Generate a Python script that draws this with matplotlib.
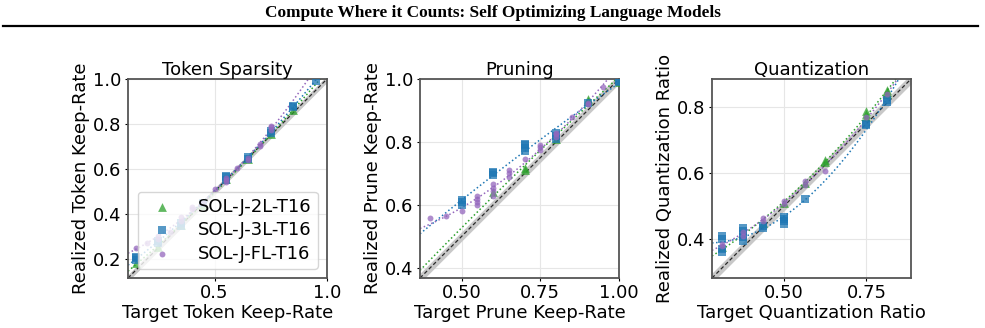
import numpy as np
import matplotlib
matplotlib.use("Agg")
import matplotlib.pyplot as plt
from matplotlib.lines import Line2D

plt.rcParams['font.family'] = ['DejaVu Sans']
plt.rcParams['font.size'] = 13

# ---- Token sparsity ----
tok_2l_x = [0.15, 0.25, 0.35, 0.45, 0.55, 0.65, 0.75, 0.85]
tok_2l_y = [0.18, 0.255, 0.35, 0.44, 0.555, 0.645, 0.755, 0.86]
tok_3l_x = [0.15, 0.15, 0.15, 0.25, 0.25, 0.35, 0.35, 0.45, 0.55, 0.55, 0.55, 0.65, 0.65, 0.75, 0.75, 0.85, 0.85, 0.95]
tok_3l_y = [0.195, 0.205, 0.21, 0.27, 0.28, 0.345, 0.36, 0.45, 0.55, 0.565, 0.57, 0.645, 0.655, 0.76, 0.77, 0.875, 0.88, 0.99]
tok_fl_x = [0.15, 0.2, 0.25, 0.25, 0.3, 0.35, 0.35, 0.4, 0.4, 0.45, 0.5, 0.55, 0.55, 0.55, 0.6, 0.65, 0.65, 0.7, 0.7, 0.75, 0.75, 0.75]
tok_fl_y = [0.25, 0.27, 0.29, 0.30, 0.32, 0.37, 0.385, 0.42, 0.43, 0.45, 0.51, 0.54, 0.55, 0.56, 0.605, 0.64, 0.65, 0.70, 0.71, 0.775, 0.785, 0.79]

# ---- Pruning ----
pr_2l_x = [0.6, 0.7, 0.7, 0.8, 0.9, 0.9, 1.0]
pr_2l_y = [0.64, 0.712, 0.716, 0.81, 0.93, 0.936, 0.99]
pr_3l_x = [0.5, 0.5, 0.5, 0.6, 0.6, 0.6, 0.7, 0.7, 0.7, 0.7, 0.8, 0.8, 0.8, 0.9, 1.0, 1.0]
pr_3l_y = [0.60, 0.61, 0.615, 0.695, 0.70, 0.705, 0.77, 0.78, 0.79, 0.795, 0.81, 0.82, 0.83, 0.925, 0.99, 0.995]
pr_fl_x = [0.4, 0.45, 0.5, 0.55, 0.55, 0.55, 0.55, 0.6, 0.6, 0.6, 0.6, 0.65, 0.65, 0.65, 0.7, 0.75, 0.75, 0.75,
           0.8, 0.8, 0.8, 0.85, 0.9, 0.9, 0.95]
pr_fl_y = [0.559, 0.566, 0.58, 0.60, 0.61, 0.62, 0.63, 0.63, 0.645, 0.655, 0.665, 0.69, 0.70, 0.71, 0.747, 0.775, 0.785, 0.79,
           0.815, 0.825, 0.83, 0.88, 0.92, 0.925, 0.974]

# ---- Quantization ----
qu_2l_x = [0.3125, 0.4375, 0.5, 0.5625, 0.625, 0.625, 0.75, 0.75, 0.75, 0.8125, 0.8125, 0.8125]
qu_2l_y = [0.375, 0.45, 0.51, 0.57, 0.635, 0.64, 0.77, 0.78, 0.787, 0.84, 0.845, 0.853]
qu_3l_x = [0.3125, 0.3125, 0.3125, 0.3125, 0.375, 0.375, 0.375, 0.375, 0.375, 0.4375, 0.4375,
           0.5, 0.5, 0.5, 0.5, 0.5625, 0.75, 0.75, 0.8125, 0.8125]
qu_3l_y = [0.36, 0.37, 0.40, 0.41, 0.395, 0.405, 0.415, 0.425, 0.435, 0.435, 0.44,
           0.445, 0.455, 0.46, 0.468, 0.52, 0.745, 0.748, 0.815, 0.82]
qu_fl_x = [0.3125, 0.3125, 0.375, 0.375, 0.4375, 0.4375, 0.5, 0.5, 0.5625, 0.5625, 0.625, 0.75, 0.8125]
qu_fl_y = [0.38, 0.385, 0.41, 0.42, 0.455, 0.465, 0.505, 0.515, 0.565, 0.575, 0.607, 0.77, 0.84]

labels = ['SOL-J-2L-T16', 'SOL-J-3L-T16', 'SOL-J-FL-T16']
colors = ['#2ca02c', '#1f77b4', '#9467bd']
markers = ['^', 's', 'o']
sizes = [40, 40, 18]

panels = [
    dict(title='Token Sparsity', xl='Target Token Keep-Rate', yl='Realized Token Keep-Rate',
         lim=(0.115, 1.0), xt=[0.5, 1.0], xtl=['0.5', '1.0'], yt=[0.2, 0.4, 0.6, 0.8, 1.0],
         data=[(tok_2l_x, tok_2l_y), (tok_3l_x, tok_3l_y), (tok_fl_x, tok_fl_y)], left=128),
    dict(title='Pruning', xl='Target Prune Keep-Rate', yl='Realized Prune Keep-Rate',
         lim=(0.368, 1.0), xt=[0.5, 0.75, 1.0], xtl=['0.50', '0.75', '1.00'], yt=[0.4, 0.6, 0.8, 1.0],
         data=[(pr_2l_x, pr_2l_y), (pr_3l_x, pr_3l_y), (pr_fl_x, pr_fl_y)], left=420),
    dict(title='Quantization', xl='Target Quantization Ratio', yl='Realized Quantization Ratio',
         lim=(0.282, 0.885), xt=[0.5, 0.75], xtl=['0.50', '0.75'], yt=[0.4, 0.6, 0.8],
         data=[(qu_2l_x, qu_2l_y), (qu_3l_x, qu_3l_y), (qu_fl_x, qu_fl_y)], left=712),
]

W, H = 985, 328
fig = plt.figure(figsize=(W / 100, H / 100), dpi=100)

fig.text(0.5, 1 - 13 / H, 'Compute Where it Counts: Self Optimizing Language Models',
         ha='center', va='center', family='Liberation Serif', weight='bold', fontsize=12.4)
fig.add_artist(Line2D([3 / W, 978 / W], [1 - 25.5 / H, 1 - 25.5 / H], color='black', lw=1.6))

for i, p in enumerate(panels):
    ax = fig.add_axes([p['left'] / W, 50 / H, 199 / W, 199 / H])
    lo, hi = p['lim']
    line = np.linspace(lo, hi, 100)
    ax.fill_between(line, line - 0.015, line + 0.015, color='#c8c8c8', lw=0, zorder=1)
    ax.plot(line, line, ls=(0, (3, 2)), color='black', lw=0.9, alpha=0.8, zorder=2)
    for (x, y), c, m, s, lab in zip(p['data'], colors, markers, sizes, labels):
        ax.scatter(x, y, marker=m, s=s, color=c, alpha=0.75, lw=0, label=lab, zorder=3)
        coef = np.polyfit(x, y, 2)
        ax.plot(line, np.polyval(coef, line), ls=':', color=c, lw=1.1, zorder=2.5)
    ax.set_xlim(lo, hi)
    ax.set_ylim(lo, hi)
    ax.set_xticks(p['xt'])
    ax.set_xticklabels(p['xtl'])
    ax.set_yticks(p['yt'])
    ax.grid(True, color='#e6e6e6', lw=0.8, zorder=0)
    ax.set_axisbelow(True)
    for sp in ax.spines.values():
        sp.set_color('#555555')
        sp.set_linewidth(1.3)
    ax.set_title(p['title'], fontsize=13, pad=3)
    ax.set_xlabel(p['xl'], fontsize=13, labelpad=1)
    ax.set_ylabel(p['yl'], fontsize=13, labelpad=2)
    ax.tick_params(labelsize=13, length=2.5, pad=2)
    if i == 0:
        ax.legend(loc='lower right', fontsize=13, framealpha=0.8, handletextpad=1.0,
                  borderpad=0.35, labelspacing=0.3, markerscale=1.0)

fig.savefig('out.png', dpi=100)
